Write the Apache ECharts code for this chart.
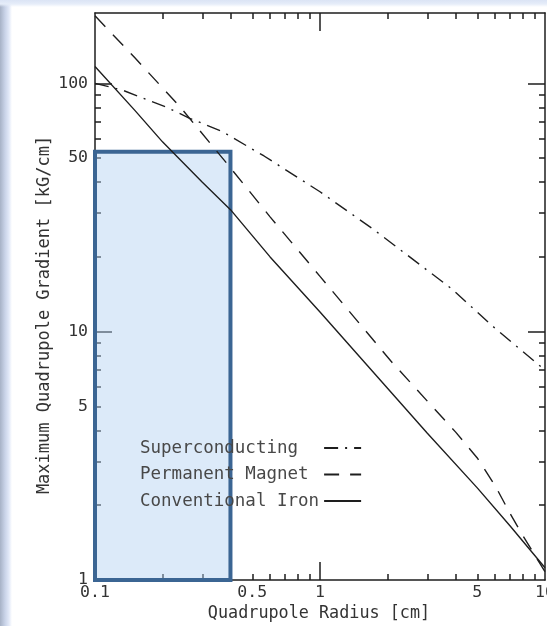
<!DOCTYPE html>
<html><head><meta charset="utf-8">
<script src="https://cdn.jsdelivr.net/npm/echarts@6/dist/echarts.min.js"></script>
<style>
html,body{margin:0;padding:0;width:547px;height:626px;overflow:hidden;}
body{background:
 linear-gradient(to bottom, #dbe4f5 0px, #e6edf9 4px, rgba(255,255,255,0) 7px),
 linear-gradient(to right, #a7b2c6 0px, #c9d3e8 5px, #e2e9f8 9px, #ffffff 12px);}
#chart{width:547px;height:626px;}
</style></head><body><div id="chart"></div>
<script>
// ---- data ----
const seriesNames = ['Superconducting', 'Permanent Magnet', 'Conventional Iron'];
const radiusSuper = [0.1, 0.132, 0.209, 0.262, 0.367, 0.564, 1, 1.71, 3.84, 5.87, 10];
const gradSuper   = [100, 94, 80, 72.5, 64, 51, 36.6, 26, 14.9, 10.5, 7.0];
const radiusPerm  = [0.1, 0.15, 0.24, 0.39, 0.6, 1, 2.07, 3, 4, 5, 6, 7, 8, 10];
const gradPerm    = [187, 127, 80, 47, 29, 16.7, 7.6, 5.25, 3.95, 3.1, 2.4, 1.85, 1.5, 1.08];
const radiusIron  = [0.1, 0.15, 0.2, 0.3, 0.4, 0.6, 1, 2, 3, 5, 7, 10];
const gradIron    = [117, 78, 58, 40, 31, 20, 12, 5.9, 3.9, 2.35, 1.65, 1.12];
const boxRadius   = [0.1, 0.4];
const boxGradient = [1, 53];
const xTickLabels = [0.1, 0.5, 1, 5, 10];
const yTickLabels = [1, 5, 10, 50, 100];
const xMinorTicks = [0.2,0.3,0.4,0.5,0.6,0.7,0.8,0.9,2,3,4,5,6,7,8,9];
const xMajorTicks = [1];
const yMinorTicks = [2,3,4,5,6,7,8,9,20,30,40,50,60,70,80,90];
const yMajorTicks = [10, 100];
const X_MIN = 0.1, X_MAX = 10, Y_MIN = 1, Y_MAX = 192;

const pairs = (xs, ys) => xs.map((x, i) => [x, ys[i]]);
const FONT = 'DejaVu Sans Mono';
const INK = '#1e1e1e';
const gridRect = {left: 95, right: 2, top: 13, bottom: 46, containLabel: false, outerBoundsMode: 'none'};

function axis(dim, gridIndex, pos, ticks, len, labels, showLine) {
  const a = {
    type: 'log', logBase: 10, gridIndex: gridIndex, position: pos,
    min: dim === 'x' ? X_MIN : Y_MIN, max: dim === 'x' ? X_MAX : Y_MAX,
    axisLine: {show: showLine, lineStyle: {color: INK, width: 1.5}},
    axisTick: {show: true, inside: true, length: len, customValues: ticks,
               lineStyle: {color: INK, width: 1.5}},
    splitLine: {show: false},
    minorTick: {show: false},
    axisLabel: {show: false}
  };
  if (labels) {
    a.axisLabel = {show: true, customValues: labels, color: '#333',
      fontFamily: FONT, fontSize: 16.5, margin: dim === 'x' ? 4 : 7,
      formatter: v => String(+(+v).toPrecision(3))};
  }
  return a;
}

const chart = echarts.init(document.getElementById('chart'), null, {renderer: 'canvas'});
const lineBase = (name, data, type) => ({
  name: name, type: 'line', xAxisIndex: 0, yAxisIndex: 0, data: data,
  showSymbol: false, symbol: 'none', z: 5, silent: true, color: INK,
  itemStyle: {color: INK},
  lineStyle: {color: INK, width: 1.4, type: type}
});

chart.setOption({
  animation: false,
  grid: [Object.assign({}, gridRect), Object.assign({}, gridRect)],
  xAxis: [
    axis('x', 0, 'bottom', xMinorTicks, 6, xTickLabels, true),
    axis('x', 0, 'top', xMinorTicks, 6, null, true),
    axis('x', 1, 'bottom', xMajorTicks, 18, null, false),
    axis('x', 1, 'top', xMajorTicks, 18, null, false)
  ],
  yAxis: [
    axis('y', 0, 'left', yMinorTicks, 6, yTickLabels, true),
    axis('y', 0, 'right', yMinorTicks, 6, null, true),
    axis('y', 1, 'left', yMajorTicks, 17, null, false),
    axis('y', 1, 'right', yMajorTicks, 17, null, false)
  ],
  legend: {
    data: seriesNames, orient: 'vertical', align: 'right',
    left: 135, top: 433, itemGap: 6.5, itemWidth: 37, itemHeight: 14,
    selectedMode: false,
    itemStyle: {opacity: 0},
    formatter: n => n.padEnd(17, ' '),
    textStyle: {fontFamily: FONT, fontSize: 17.5, color: '#484848', lineHeight: 20}
  },
  series: [
    {
      name: 'box', type: 'line', xAxisIndex: 0, yAxisIndex: 0, data: [], z: 1, silent: true,
      markArea: {
        silent: true,
        itemStyle: {color: 'rgba(178,208,242,0.45)', borderColor: '#3b6593', borderWidth: 4},
        data: [[{coord: [boxRadius[0], boxGradient[0]]}, {coord: [boxRadius[1], boxGradient[1]]}]]
      }
    },
    lineBase(seriesNames[0], pairs(radiusSuper, gradSuper), [14, 7, 2, 7]),
    lineBase(seriesNames[1], pairs(radiusPerm, gradPerm), [15, 11]),
    lineBase(seriesNames[2], pairs(radiusIron, gradIron), 'solid')
  ],
  graphic: [
    {type: 'text', x: 319, y: 614, silent: true,
     style: {text: 'Quadrupole Radius [cm]', font: '16.8px "DejaVu Sans Mono"', fill: '#333',
             align: 'center', verticalAlign: 'middle'}},
    {type: 'text', x: 45, y: 315, rotation: Math.PI / 2, silent: true,
     style: {text: 'Maximum Quadrupole Gradient [kG/cm]', font: '17px "DejaVu Sans Mono"', fill: '#333',
             align: 'center', verticalAlign: 'middle'}}
  ]
});
</script></body></html>
